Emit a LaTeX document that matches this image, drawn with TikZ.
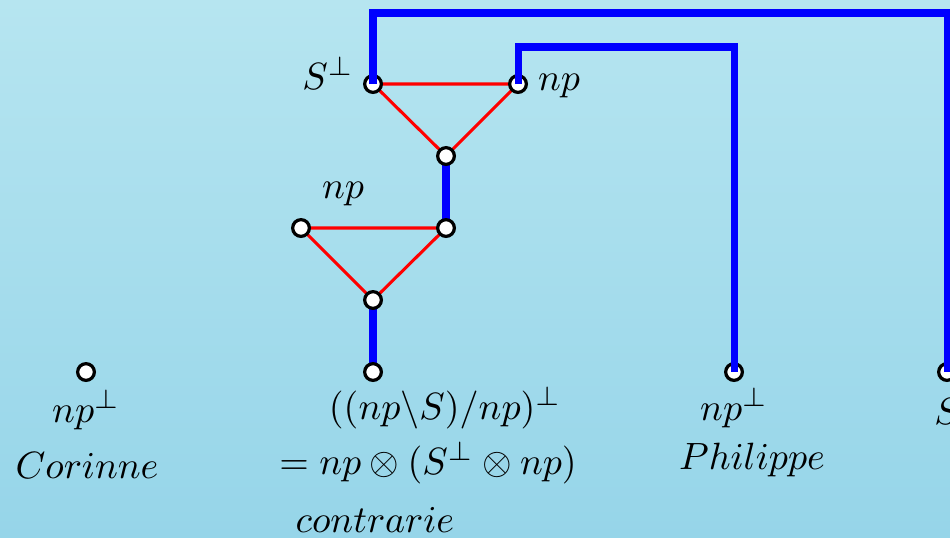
\documentclass[tikz,border=0pt]{standalone}
\usetikzlibrary{shadings}
\definecolor{bgtop}{RGB}{182,229,240}
\definecolor{bgbot}{RGB}{150,213,233}
\definecolor{axblue}{RGB}{0,0,255}
\definecolor{linkred}{RGB}{255,0,0}
\begin{document}
\begin{tikzpicture}[x=0.2632pt,y=-0.2632pt,
  vertex/.style={circle,draw=black,fill=white,line width=0.85pt,minimum size=4.4pt,inner sep=0pt},
  axis/.style={draw=axblue,line width=1.85pt},
  link/.style={draw=linkred,line width=0.8pt},
  lab/.style={inner sep=0pt}]
\useasboundingbox (0,0) rectangle (950,537);
\shade[top color=bgtop,bottom color=bgbot] (0,0) rectangle (950,537);
\clip (0,0) rectangle (950,537);
% vertices positions
\coordinate (cP) at (86,372);
\coordinate (kP) at (373,372);
\coordinate (l1P) at (373,300);
\coordinate (l2P) at (301,228);
\coordinate (l3P) at (446,228);
\coordinate (u1P) at (446,156);
\coordinate (u2P) at (373,84);
\coordinate (u3P) at (518,84);
\coordinate (pP) at (734,372);
\coordinate (sP) at (947,372);
\coordinate (t1) at (373,13);
\coordinate (t2) at (947,13);
\coordinate (t3) at (518,47);
\coordinate (t4) at (734,47);
% links under vertices
\draw[axis] (kP) -- (l1P);
\draw[axis] (l3P) -- (u1P);
\draw[link] (l1P) -- (l2P) -- (l3P) -- cycle;
\draw[link] (u1P) -- (u2P) -- (u3P) -- cycle;
% vertices
\node[vertex] (c) at (cP) {};
\node[vertex] (k) at (kP) {};
\node[vertex] (l1) at (l1P) {};
\node[vertex] (l2) at (l2P) {};
\node[vertex] (l3) at (l3P) {};
\node[vertex] (u1) at (u1P) {};
\node[vertex] (u2) at (u2P) {};
\node[vertex] (u3) at (u3P) {};
\node[vertex] (p) at (pP) {};
\node[vertex] (s) at (sP) {};
% axis links over vertices
\draw[axis,line join=miter] (u2.center) -- (t1) -- (t2) -- (s.center);
\draw[axis,line join=miter] (u3.center) -- (t3) -- (t4) -- (p.center);
% labels
\node[lab] (lu2) at (328,73) {$S^\perp$};
\node[lab] (lu3) at (559,86) {$np$};
\node[lab] (ll2) at (343,194) {$np$};
\node[lab] (lc) at (86,410) {$np^\perp$};
\node[lab] (wc) at (87,466) {$Corinne$};
\node[lab] (lk1) at (445,408) {$((np\backslash S)/np)^\perp$};
\node[lab] (lk2) at (428,463) {$= np\otimes(S^\perp\otimes np)$};
\node[lab] (wk) at (375,520) {$contrarie$};
\node[lab] (lp) at (734,408) {$np^\perp$};
\node[lab] (wp) at (752,460) {$Philippe$};
\node[lab] (ls) at (960,408) {$S^\perp$};
\end{tikzpicture}
\end{document}
